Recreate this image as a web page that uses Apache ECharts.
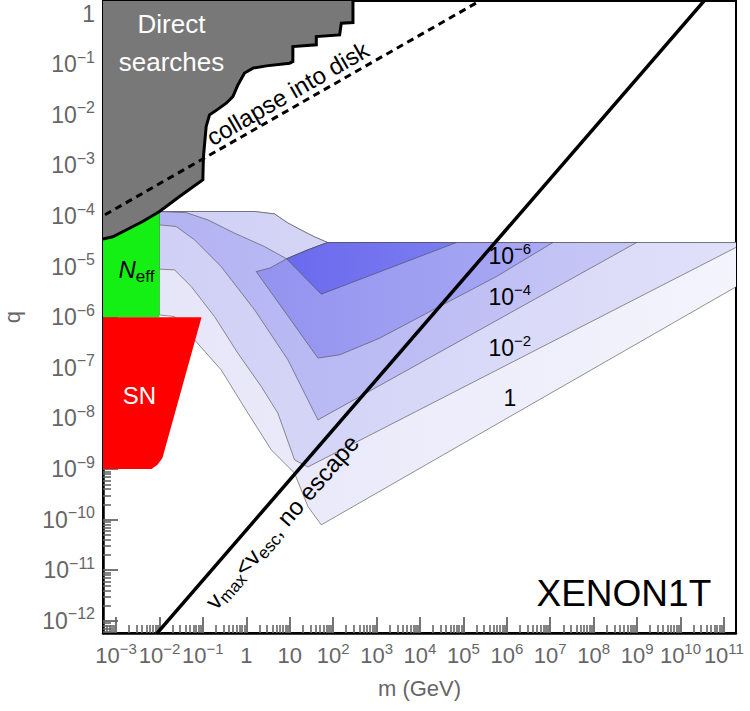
<!DOCTYPE html>
<html><head><meta charset="utf-8">
<script src="https://cdn.jsdelivr.net/npm/echarts@6/dist/echarts.min.js"></script>
<style>html,body{margin:0;padding:0;background:#fff}#c{width:750px;height:711px}</style>
</head><body><div id="c"></div>
<script>
// ---------- data ----------
const xTickExp = [-3,-2,-1,0,1,2,3,4,5,6,7,8,9,10,11];
const xTickLabels = ['10{s|−3}','10{s|−2}','10{s|−1}','1','10','10{s|2}','10{s|3}','10{s|4}','10{s|5}','10{s|6}','10{s|7}','10{s|8}','10{s|9}','10{s|10}','10{s|11}'];
const yTickExp = [-12,-11,-10,-9,-8,-7,-6,-5,-4,-3,-2,-1,0];
const yTickLabels = ['10{s|−12}','10{s|−11}','10{s|−10}','10{s|−9}','10{s|−8}','10{s|−7}','10{s|−6}','10{s|−5}','10{s|−4}','10{s|−3}','10{s|−2}','10{s|−1}','1'];
const xRange = [5.0e-4, 1.9e11];
const yRange = [5.75e-13, 1.78];

// [m (GeV), q]
const directSearches = [[3.2e-4,3.4e-5],[4.9e-4,3.5e-5],[8.4e-4,3.9e-5],[1.71e-3,5.3e-5],[4.1e-3,7.8e-5],[1e-2,1.23e-4],[2.9e-2,2.43e-4],[0.1,5.2e-4],[0.1,6.0e-4],[0.103,1.5e-3],[0.119,5.9e-3],[0.142,1e-2],[0.185,1.16e-2],[0.345,1.7e-2],[0.49,2.3e-2],[0.64,3.9e-2],[0.91,6.7e-2],[1.42,8.4e-2],[2.9,9.3e-2],[9.9,0.105],[11.8,0.113],[11.8,0.224],[40.9,0.242],[40.9,0.352],[141,0.381],[154,0.649],[286,0.667],[286,3.2],[3.2e-4,3.2]];
const collapseLine = [[3.2e-4,8.1e-5],[1e6,3.6]];
const escapeLine = [[3.16e-3,2.06e-13],[1e11,5.07]];
const neffRegion = [[3.2e-4,1e-6],[1e-2,1e-6],[1e-2,1.3e-4],[3.2e-4,1.3e-4]];
const snRegion = [[3.2e-4,1e-6],[0.093,1e-6],[1.17e-2,1.66e-9],[9.0e-3,1.21e-9],[6.55e-3,1.0e-9],[3.2e-4,1.0e-9]];
const contour1 = [[1e-2,1.23e-4],[1.55,1.23e-4],[4.48,1.10e-4],[8.93,7.35e-5],[19.8,5.1e-5],[37.4,3.88e-5],[74.6,3e-5],[3.16e11,3e-5],[3.16e11,5.13e-6],[53.3,7.89e-11],[26.2,1.82e-10],[12.9,8.3e-10],[3.76,2.39e-9],[1.09,1.27e-8],[0.264,9.1e-8],[0.0641,3.57e-7],[0.0222,1.03e-6],[1e-2,1.11e-6]];
const contour2 = [[1e-2,1.23e-4],[1.55,1.23e-4],[4.48,1.10e-4],[8.93,7.35e-5],[19.8,5.1e-5],[37.4,3.88e-5],[74.6,3e-5],[3.16e11,3e-5],[26.2,1.1e-9],[12.9,1.52e-9],[5.33,1.27e-8],[2.21,4.27e-8],[0.638,1.95e-7],[0.185,1.03e-6],[0.0538,4.05e-6],[0.0222,8.65e-6],[1e-2,8.93e-6]];
const contour3 = [[1e-2,1.23e-4],[0.0412,1.17e-4],[0.130,8.41e-5],[0.536,4.59e-5],[2.63,2.49e-5],[8.47,1.43e-5],[26.2,2.15e-5],[74.6,3e-5],[9.75e8,3e-5],[44.6,9.37e-9],[9.08,1.44e-7],[1.55,1.40e-6],[0.264,1.0e-5],[0.0641,3.39e-5],[0.0243,6.21e-5],[1e-2,6.7e-5]];
const contour4 = [[1.69,8.0e-6],[3.44,9.33e-6],[8.47,1.43e-5],[26.2,2.15e-5],[74.6,3e-5],[1.15e7,3e-5],[5.78e5,6.37e-6],[2.0e4,1.4e-6],[1178,3.86e-7],[141,1.81e-7],[44.6,1.56e-7]];
const contour5 = [[8.47,1.43e-5],[53.3,2.86e-6],[6.9e4,3e-5],[74.6,3e-5],[26.2,2.15e-5]];

const annotationTexts = ['Direct\nsearches','collapse into disk','{n|v}{sub|max}{n|<}{n|v}{sub|esc}{n|, no escape}','{it|N}{sub|eff}','SN','10{s|−6}','10{s|−4}','10{s|−2}','1','XENON1T'];
const annotationAnchors = [[0.0189,0.265],[8.93,0.0266],[6.6,9.0e-11],[2.95e-3,8.65e-6],[3.46e-3,2.8e-8],[1.17e6,1.63e-5],[1.17e6,2.53e-6],[1.17e6,2.48e-7],[1.17e6,2.55e-8],[4.97e8,3.42e-12]];

// ---------- styling ----------
const FONT = '"Liberation Sans", Arial, Helvetica, sans-serif';
const GREY = '#666666';
const TICK = '#666666';
const annStyle = [
  {color:'#fff', size:26, rot:0, lh:38},
  {color:'#000', size:24, rot:30},
  {color:'#000', size:24, rot:49.2},
  {color:'#000', size:24, rot:0},
  {color:'#fff', size:24, rot:0},
  {color:'#000', size:23, rot:0},
  {color:'#000', size:23, rot:0},
  {color:'#000', size:23, rot:0},
  {color:'#000', size:23, rot:0},
  {color:'#000', size:37, rot:0}
];

const majorX = xTickExp.map(e => Math.pow(10, e));
const majorY = yTickExp.map(e => Math.pow(10, e));
function minors(range) {
  const out = [];
  for (let e = -14; e <= 12; e++) for (let k = 2; k <= 9; k++) {
    const v = k * Math.pow(10, e);
    if (v > range[0] && v < range[1]) out.push(v);
  }
  return out;
}
function fmt(exps, labels) {
  return function (v) {
    const e = Math.round(Math.log10(v));
    const i = exps.indexOf(e);
    return i >= 0 ? labels[i] : '';
  };
}
const supRichX = { s: { fontSize: 15, verticalAlign: 'top', lineHeight: 14, fontFamily: FONT, color: GREY } };
const supRichY = { s: { fontSize: 16, verticalAlign: 'top', lineHeight: 15, fontFamily: FONT, color: GREY } };

function grad(c0, c1) {
  return { type: 'linear', x: 0, y: 0, x2: 1, y2: 0, colorStops: [{ offset: 0, color: c0 }, { offset: 1, color: c1 }] };
}
function area(pts, fill, stroke, lw, z, dash) {
  return {
    type: 'custom', coordinateSystem: 'cartesian2d', xAxisIndex: 0, yAxisIndex: 0,
    clip: true, silent: true, z: z, data: pts, encode: { x: 0, y: 1 },
    renderItem(params, api) {
      if (params.dataIndexInside !== 0) return null;
      const n = params.dataInsideLength, points = [];
      for (let i = 0; i < n; i++) points.push(api.coord([api.value(0, i), api.value(1, i)]));
      return {
        type: fill ? 'polygon' : 'polyline', shape: { points },
        style: { fill: fill || null, stroke: stroke, lineWidth: lw, lineDash: dash || null }
      };
    }
  };
}

const contourStroke = '#4a4a4a';
const series = [
  area(contour1, grad('#e6e6f9', '#f4f4fd'), contourStroke, 0.6, 2),
  area(contour2, grad('#d0d0f6', '#e0e0fa'), contourStroke, 0.6, 3),
  area(contour3, grad('#b3b3f3', '#c6c6f6'), contourStroke, 0.6, 4),
  area(contour4, grad('#9393f0', '#a9a9f4'), contourStroke, 0.6, 5),
  area(contour5, grad('#6a6aee', '#7c7cf1'), contourStroke, 0.6, 6),
  area(neffRegion, '#14f014', null, 0, 7),
  area(snRegion, '#ff0000', null, 0, 8),
  area(directSearches, '#787878', '#000', 3, 9),
  area(collapseLine, null, '#000', 3, 10, [7, 5]),
  area(escapeLine, null, '#000', 3.5, 11),
  {
    type: 'custom', coordinateSystem: 'cartesian2d', xAxisIndex: 0, yAxisIndex: 0,
    silent: true, clip: false, z: 20, data: annotationAnchors, encode: { x: 0, y: 1 },
    renderItem(params, api) {
      const i = params.dataIndex, st = annStyle[i];
      const p = api.coord([api.value(0), api.value(1)]);
      const base = st.size, sub = Math.round(st.size * 0.7);
      return {
        type: 'text', x: p[0], y: p[1], rotation: st.rot * Math.PI / 180,
        style: {
          x: 0, y: 0, text: annotationTexts[i], fill: st.color, fontSize: base, fontFamily: FONT,
          align: 'center', verticalAlign: 'middle', lineHeight: st.lh || base + 6,
          rich: {
            n: { fontSize: base, lineHeight: base + 6, fontFamily: FONT, fill: st.color },
            it: { fontSize: base, lineHeight: base + 6, fontFamily: FONT, fontStyle: 'italic', fill: st.color },
            sub: { fontSize: sub, lineHeight: sub, verticalAlign: 'bottom', fontFamily: FONT, fill: st.color },
            s: { fontSize: 15, lineHeight: 14, verticalAlign: 'top', fontFamily: FONT, fill: st.color }
          }
        }
      };
    }
  }
];

const chart = echarts.init(document.getElementById('c'), null, { renderer: 'svg' });
chart.setOption({
  animation: false,
  backgroundColor: '#fff',
  grid: { left: 103, right: 14, top: 1, bottom: 78, show: true, borderColor: '#000', borderWidth: 2, backgroundColor: 'transparent', containLabel: false, outerBoundsMode: 'none' },
  xAxis: [
    {
      type: 'log', logBase: 10, min: xRange[0], max: xRange[1], position: 'bottom',
      name: 'm (GeV)', nameLocation: 'middle', nameGap: 44,
      nameTextStyle: { color: GREY, fontSize: 22, fontFamily: FONT },
      axisLine: { show: true, onZero: false, lineStyle: { color: '#000', width: 2.5 } },
      axisTick: { show: true, inside: true, length: 16, customValues: majorX, lineStyle: { color: TICK, width: 1.8 } },
      axisLabel: { show: true, customValues: majorX, formatter: fmt(xTickExp, xTickLabels), color: GREY, fontSize: 22, fontFamily: FONT, lineHeight: 28, margin: 8, rich: supRichX, showMinLabel: true, showMaxLabel: true, hideOverlap: false },
      splitLine: { show: false }, minorTick: { show: false }
    },
    {
      type: 'log', logBase: 10, min: xRange[0], max: xRange[1], position: 'bottom',
      axisLine: { show: false, onZero: false },
      axisTick: { show: true, inside: true, length: 8, customValues: minors(xRange), lineStyle: { color: TICK, width: 1.6 } },
      axisLabel: { show: false }, splitLine: { show: false }
    }
  ],
  yAxis: [
    {
      type: 'log', logBase: 10, min: yRange[0], max: yRange[1], position: 'left',
      name: 'q', nameLocation: 'middle', nameGap: 80,
      nameTextStyle: { color: GREY, fontSize: 22, fontFamily: FONT },
      axisLine: { show: true, onZero: false, lineStyle: { color: '#000', width: 2.5 } },
      axisTick: { show: true, inside: true, length: 15, customValues: majorY, lineStyle: { color: TICK, width: 1.8 } },
      axisLabel: { show: true, customValues: majorY, formatter: fmt(yTickExp, yTickLabels), color: GREY, fontSize: 23, fontFamily: FONT, lineHeight: 30, margin: 8, rich: supRichY, showMinLabel: true, showMaxLabel: true, hideOverlap: false },
      splitLine: { show: false }
    },
    {
      type: 'log', logBase: 10, min: yRange[0], max: yRange[1], position: 'left',
      axisLine: { show: false, onZero: false },
      axisTick: { show: true, inside: true, length: 8, customValues: minors(yRange), lineStyle: { color: TICK, width: 1.6 } },
      axisLabel: { show: false }, splitLine: { show: false }
    }
  ],
  series: series
});
</script></body></html>
